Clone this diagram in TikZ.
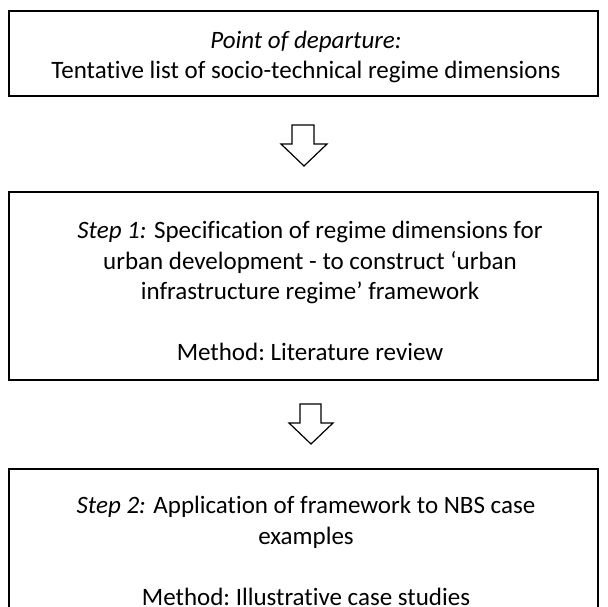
\documentclass[tikz,border=0pt]{standalone}
\usepackage{fontspec}
\setmainfont{Carlito}[RawFeature=-liga]
\begin{document}
\begin{tikzpicture}[x=1pt,y=-1pt,
  box/.style={draw=black, line width=1.5pt, minimum width=589pt, inner sep=0pt},
  txt/.style={align=center, inner sep=0pt, font=\fontsize{25}{30.5}\selectfont},
  blockarrow/.style={draw=black, line width=1.2pt, fill=white, line join=miter}]
\useasboundingbox (0,0) rectangle (608,606);
\node[box, minimum height=85pt] (b1) at (303.5,53.5) {};
\node[box, minimum height=188pt] (b2) at (303.5,286) {};
\node[box, minimum height=166pt] (b3) at (303.5,552) {};
\node[txt] (t1) at (306,57)
  {\textit{Point of departure:}\\Tentative list of socio-technical regime dimensions};
\node[txt] (t2) at (310,291)
  {\textit{Step 1:} Specification of regime dimensions for\\urban development - to construct ‘urban\\infrastructure regime’ framework\\[30.5pt]Method:\ Literature review};
\node[txt] (t3) at (306,551)
  {\textit{Step 2:} Application of framework to NBS case\\examples\\[30.5pt]Method:\ Illustrative case studies};
\draw[blockarrow] (292,125) -- (314,125) -- (314,144) -- (327,144) -- (304,166) -- (281,144) -- (292,144) -- cycle;
\draw[blockarrow] (300,404) -- (321,404) -- (321,423) -- (333,423) -- (311,444) -- (289,423) -- (300,423) -- cycle;
\end{tikzpicture}
\end{document}
